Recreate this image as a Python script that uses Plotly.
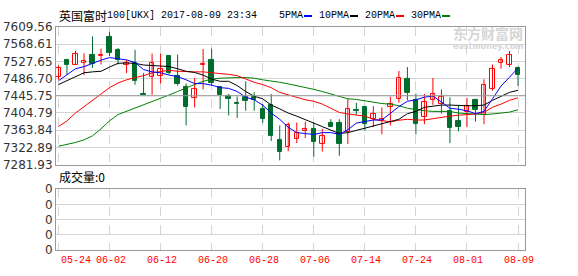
import plotly.graph_objects as go

W, H = 578, 276

dates = ["05-24", "05-25", "05-26", "05-30", "05-31", "06-01", "06-02", "06-05", "06-06", "06-07",
         "06-08", "06-09", "06-12", "06-13", "06-14", "06-15", "06-16", "06-19", "06-20", "06-21",
         "06-22", "06-23", "06-26", "06-27", "06-28", "06-29", "06-30", "07-03", "07-04", "07-05",
         "07-06", "07-07", "07-10", "07-11", "07-12", "07-13", "07-14", "07-17", "07-18", "07-19",
         "07-20", "07-21", "07-24", "07-25", "07-26", "07-27", "07-28", "07-31", "08-01", "08-02",
         "08-03", "08-04", "08-07", "08-08", "08-09"]

open_ = [7491, 7531, 7520, 7525, 7542, 7540, 7585, 7555, 7520, 7524,
         7450, 7491, 7494, 7540, 7494, 7467, 7440, 7518, 7531, 7467,
         7446, 7429, 7444, 7444, 7415, 7425, 7341, 7323, 7343, 7362,
         7367, 7331, 7380, 7380, 7359, 7411, 7418, 7390, 7385, 7418,
         7439, 7485, 7435, 7395, 7435, 7427, 7409, 7386, 7407, 7437,
         7399, 7461, 7525, 7520, 7512]
high = [7518, 7531, 7553, 7547, 7587, 7558, 7598, 7559, 7531, 7555,
        7500, 7546, 7546, 7542, 7544, 7475, 7488, 7557, 7558, 7467,
        7450, 7444, 7480, 7454, 7426, 7450, 7375, 7382, 7382, 7384,
        7382, 7367, 7390, 7390, 7439, 7429, 7418, 7421, 7418, 7444,
        7505, 7514, 7451, 7450, 7488, 7461, 7442, 7424, 7441, 7439,
        7485, 7520, 7538, 7552, 7515]
low = [7484, 7495, 7519, 7495, 7512, 7520, 7540, 7520, 7500, 7472,
       7448, 7448, 7475, 7497, 7470, 7375, 7418, 7461, 7470, 7414,
       7399, 7393, 7410, 7410, 7381, 7338, 7292, 7314, 7333, 7345,
       7301, 7313, 7371, 7303, 7331, 7401, 7363, 7371, 7354, 7375,
       7429, 7435, 7354, 7378, 7424, 7403, 7333, 7361, 7371, 7384,
       7378, 7458, 7510, 7514, 7469]
close = [7512, 7518, 7546, 7528, 7521, 7542, 7548, 7531, 7525, 7480,
         7448, 7525, 7509, 7500, 7475, 7418, 7463, 7521, 7476, 7448,
         7439, 7427, 7433, 7435, 7390, 7350, 7313, 7376, 7358, 7367,
         7337, 7350, 7371, 7331, 7415, 7410, 7378, 7403, 7390, 7427,
         7488, 7452, 7378, 7431, 7450, 7442, 7368, 7372, 7421, 7411,
         7472, 7509, 7531, 7542, 7495]

ma5 = [7481.5, 7495.0, 7510.0, 7515.0, 7523.0, 7530.5, 7536.6, 7533.0, 7531.0, 7525.0,
       7508.0, 7502.6, 7500.4, 7495.0, 7491.4, 7483.7, 7474.7, 7474.7, 7471.0, 7465.0,
       7463.4, 7455.9, 7442.4, 7436.0, 7423.6, 7404.6, 7389.7, 7370.7, 7358.0, 7355.8,
       7353.5, 7358.0, 7358.0, 7354.0, 7364.8, 7380.6, 7383.6, 7388.0, 7388.0, 7404.6,
       7419.8, 7432.6, 7436.0, 7442.4, 7445.0, 7431.0, 7416.0, 7413.7, 7410.0, 7403.2,
       7408.5, 7438.5, 7468.8, 7489.8, 7511.7]
ma10 = [7472.4, 7481.5, 7491.4, 7500.4, 7502.6, 7504.0, 7514.0, 7523.0, 7523.7, 7523.0,
        7519.0, 7517.6, 7515.3, 7515.3, 7510.1, 7504.0, 7501.1, 7495.0, 7485.3, 7480.1,
        7480.1, 7470.0, 7455.9, 7444.6, 7438.5, 7423.6, 7414.6, 7404.6, 7397.2, 7389.7,
        7380.6, 7372.3, 7363.3, 7355.8, 7358.0, 7363.3, 7369.4, 7374.6, 7378.4, 7383.6,
        7389.7, 7403.1, 7408.5, 7418.2, 7421.3, 7423.6, 7423.6, 7422.0, 7422.0, 7422.0,
        7423.6, 7434.9, 7444.6, 7453.7, 7458.8]
ma20 = [7372.3, 7385.9, 7404.6, 7419.8, 7434.9, 7449.8, 7465.0, 7476.2, 7483.7, 7489.0,
        7493.6, 7500.4, 7504.0, 7506.3, 7504.0, 7502.6, 7502.6, 7502.6, 7501.1, 7498.8,
        7496.6, 7493.6, 7486.0, 7477.8, 7472.4, 7465.0, 7453.7, 7447.6, 7440.8, 7436.2,
        7432.6, 7425.8, 7416.0, 7406.0, 7402.4, 7399.4, 7397.2, 7389.7, 7387.5, 7383.6,
        7387.5, 7389.7, 7388.0, 7388.0, 7391.1, 7394.9, 7397.2, 7399.4, 7401.0, 7402.4,
        7406.2, 7418.2, 7425.8, 7434.9, 7440.8]
ma30 = [7325.5, 7329.4, 7334.6, 7340.7, 7350.4, 7367.1, 7385.9, 7401.0, 7408.5, 7416.0,
        7423.6, 7431.0, 7438.5, 7447.6, 7455.9, 7465.0, 7472.4, 7480.1, 7485.3, 7487.6,
        7489.0, 7489.0, 7489.0, 7487.6, 7483.7, 7481.5, 7477.8, 7474.0, 7470.0, 7466.5,
        7461.0, 7455.9, 7449.8, 7443.9, 7438.5, 7437.0, 7433.3, 7431.0, 7427.2, 7425.8,
        7422.0, 7416.0, 7412.3, 7410.0, 7408.5, 7408.5, 7408.5, 7404.6, 7403.2, 7402.4,
        7401.0, 7402.4, 7404.6, 7406.8, 7412.3]

price_ticks = [7281.93, 7322.89, 7363.84, 7404.79, 7445.75, 7486.70, 7527.65, 7568.61, 7609.56]
price_tick_text = ["7281.93", "7322.89", "7363.84", "7404.79", "7445.75", "7486.70", "7527.65", "7568.61", "7609.56"]
date_ticks = ["05-24", "06-02", "06-12", "06-20", "06-28", "07-06", "07-14", "07-24", "08-01", "08-09"]
vol_ticks = [0, 0.25, 0.5, 0.75, 1]
vol_tick_text = ["0", "0", "0", "0", "0"]
legend_labels = ["5PMA", "10PMA", "20PMA", "30PMA"]
legend_colors = ["#0000ff", "#000000", "#ff0000", "#008000"]

RED = "#ff0000"
GREEN = "#006d2e"
GRID = "#d4d4d4"
FRAME = "#999999"


def px_x(p):
    return p / W


def px_y(p):
    return 1 - p / H


fig = go.Figure()

# wicks
for up, col in ((True, RED), (False, GREEN)):
    wx, wy = [], []
    for d, o, hi, lo, c in zip(dates, open_, high, low, close):
        if (c >= o) == up:
            wx += [d, d, None]
            wy += [lo, hi, None]
    fig.add_trace(go.Scatter(x=wx, y=wy, mode="lines", line=dict(color=col, width=1),
                             xaxis="x", yaxis="y", hoverinfo="skip", showlegend=False))

# bodies
up_x = [d for d, o, c in zip(dates, open_, close) if c >= o]
up_base = [o for o, c in zip(open_, close) if c >= o]
up_h = [c - o for o, c in zip(open_, close) if c >= o]
dn_x = [d for d, o, c in zip(dates, open_, close) if c < o]
dn_base = [c for o, c in zip(open_, close) if c < o]
dn_h = [o - c for o, c in zip(open_, close) if c < o]
fig.add_trace(go.Bar(x=up_x, y=up_h, base=up_base, width=0.52,
                     marker=dict(color="white", line=dict(color=RED, width=1)),
                     xaxis="x", yaxis="y", showlegend=False, hoverinfo="skip"))
fig.add_trace(go.Bar(x=dn_x, y=dn_h, base=dn_base, width=0.52,
                     marker=dict(color=GREEN, line=dict(color=GREEN, width=1)),
                     xaxis="x", yaxis="y", showlegend=False, hoverinfo="skip"))

# moving averages
for ma, col in ((ma30, "#008000"), (ma20, RED), (ma10, "#000000"), (ma5, "#0000ff")):
    fig.add_trace(go.Scatter(x=dates, y=ma, mode="lines", line=dict(color=col, width=1),
                             xaxis="x", yaxis="y", hoverinfo="skip", showlegend=False))

# empty volume panel (volume is 0)
fig.add_trace(go.Scatter(x=dates, y=[0] * len(dates), mode="lines", line=dict(width=0),
                         xaxis="x2", yaxis="y2", hoverinfo="skip", showlegend=False))

xdom = [px_x(56), px_x(525)]
xr = [-0.29, 54.82]
common_x = dict(type="category", categoryorder="array", categoryarray=dates, range=xr,
                domain=xdom, tickvals=date_ticks, showgrid=True, gridcolor=GRID, griddash="dash",
                gridwidth=1, showline=True, mirror=True, linecolor=FRAME, linewidth=1,
                zeroline=False, ticks="", fixedrange=True)

fig.update_layout(
    width=W, height=H, margin=dict(l=0, r=0, t=0, b=0), autosize=False,
    paper_bgcolor="white", plot_bgcolor="white", barmode="overlay", bargap=0,
    xaxis=dict(**common_x, anchor="y", showticklabels=False),
    yaxis=dict(domain=[px_y(166), px_y(21)], range=[7281.93, 7609.56], tickvals=price_ticks,
               ticktext=price_tick_text, showgrid=True, gridcolor=GRID, gridwidth=1,
               showline=True, mirror=True, linecolor=FRAME, linewidth=1, zeroline=False,
               ticks="", tickfont=dict(family="DejaVu Sans", size=12, color="#333333"),
               anchor="x"),
    xaxis2=dict(**common_x, anchor="y2", showticklabels=False),
    yaxis2=dict(domain=[px_y(256), px_y(192)], range=[0, 1], tickvals=vol_ticks,
                ticktext=vol_tick_text, showgrid=True, gridcolor=GRID, gridwidth=1,
                showline=True, mirror=True, linecolor=FRAME, linewidth=1, zeroline=False,
                ticks="", tickfont=dict(family="DejaVu Sans", size=12, color="#333333"),
                anchor="x2"),
    showlegend=False,
)

# darker middle gridline
fig.add_shape(type="line", xref="paper", yref="y", x0=xdom[0], x1=xdom[1],
              y0=price_ticks[4], y1=price_ticks[4], line=dict(color=FRAME, width=1))

ann = []
# date labels on the volume axis
for i, d in enumerate(date_ticks):
    ann.append(dict(x=d, y=px_y(267), xref="x2", yref="paper", text=d, showarrow=False,
                    xanchor="left" if i == 0 else "center", yanchor="middle",
                    xshift=1,
                    font=dict(family="Liberation Mono", size=10, color=RED)))

# title
ann.append(dict(x=px_x(57), y=px_y(9), xref="paper", yref="paper", text="英国富时",
                showarrow=False, xanchor="left", yanchor="middle",
                font=dict(family="Noto Sans CJK SC", size=12, color="#000000")))
ann.append(dict(x=px_x(105), y=px_y(9), xref="paper", yref="paper",
                text="100[UKX] 2017-08-09 23:34", showarrow=False, xanchor="left",
                yanchor="middle", font=dict(family="Liberation Mono", size=10, color="#000000")))

# legend: label followed by a short coloured line
xp = 277
for label, col in zip(legend_labels, legend_colors):
    ann.append(dict(x=px_x(xp), y=px_y(9), xref="paper", yref="paper", text=label,
                    showarrow=False, xanchor="left", yanchor="middle",
                    font=dict(family="Liberation Mono", size=10, color="#000000")))
    lx = xp + len(label) * 6 + 3
    fig.add_shape(type="line", xref="paper", yref="paper", x0=px_x(lx), x1=px_x(lx + 8),
                  y0=px_y(9.5), y1=px_y(9.5), line=dict(color=col, width=2))
    xp = lx + 13

# volume title
ann.append(dict(x=px_x(57), y=px_y(179), xref="paper", yref="paper", text="成交量:0",
                showarrow=False, xanchor="left", yanchor="middle",
                font=dict(family="Noto Sans CJK SC", size=12, color="#000000")))

# watermark
ann.append(dict(x=px_x(525), y=px_y(27), xref="paper", yref="paper", text="<b>东方财富网</b>",
                showarrow=False, xanchor="right", yanchor="middle",
                font=dict(family="Noto Sans CJK SC", size=14, color="#d6d6d6")))
ann.append(dict(x=px_x(525), y=px_y(42), xref="paper", yref="paper", text="<b>eastmoney.com</b>",
                showarrow=False, xanchor="right", yanchor="middle",
                font=dict(family="DejaVu Sans", size=8, color="#d6d6d6")))

fig.update_layout(annotations=ann)
fig.write_html("out.html")
